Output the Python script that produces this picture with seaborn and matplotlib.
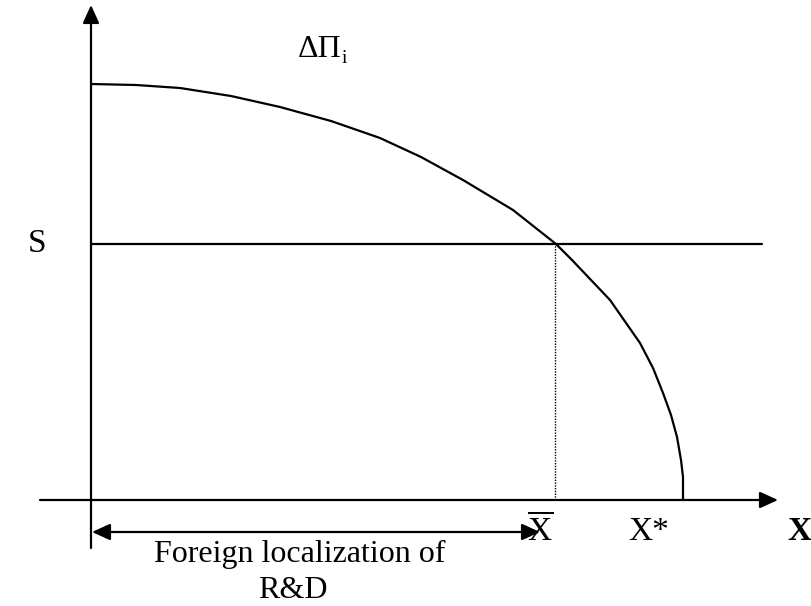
# Diagram: the DPi curve against the S level, with Xbar and X*
import matplotlib
matplotlib.use("Agg")
import matplotlib.pyplot as plt
import seaborn as sns

# curve DPi(X) (pixel-like units, origin at axes crossing)
curve_x = [0, 45, 89, 140, 189, 240, 289, 330, 372, 422, 465, 481, 519, 549,
           562, 572, 580, 586, 590, 592, 592]
curve_y = [416, 415, 412, 404, 393, 379, 362, 343, 320, 290, 256, 240, 200, 157,
           132, 107, 85, 63, 40, 23, 0]

s_level = 256
s_end = 671
x_bar = 464
x_star = 592

sns.set_theme(style="white")
plt.rcParams["font.family"] = ["Liberation Serif", "DejaVu Serif"]
plt.rcParams["mathtext.fontset"] = "custom"
plt.rcParams["mathtext.rm"] = "Liberation Serif"
plt.rcParams["mathtext.it"] = "Liberation Serif"
plt.rcParams["text.color"] = "black"

fig = plt.figure(figsize=(8.12, 6.06), dpi=100)
ax = fig.add_axes([0, 0, 1, 1])
ax.set_xlim(-91, 721)
ax.set_ylim(-106, 500)
ax.axis("off")

lw = 1.6
punta = "-|>,head_length=0.55,head_width=0.25"

# ejes con flechas
ax.annotate("", xy=(0, 495), xytext=(0, -48),
            arrowprops=dict(arrowstyle=punta, mutation_scale=20, lw=lw,
                            color="black", shrinkA=0, shrinkB=0))
ax.annotate("", xy=(687, 0), xytext=(-51, 0),
            arrowprops=dict(arrowstyle=punta, mutation_scale=20, lw=lw,
                            color="black", shrinkA=0, shrinkB=0))

# curva
sns.lineplot(x=curve_x, y=curve_y, sort=False, estimator=None, color="black",
             lw=lw, ax=ax)

# nivel S
sns.lineplot(x=[0, s_end], y=[s_level, s_level], color="black", lw=lw, ax=ax)

# linea punteada en Xbar
ax.plot([x_bar, x_bar], [0, s_level], color="black", lw=1.0, ls=(0, (1, 1)))

# flecha doble bajo el eje
ax.annotate("", xy=(449, -32), xytext=(1, -32),
            arrowprops=dict(arrowstyle="<|-|>,head_length=0.55,head_width=0.25",
                            mutation_scale=20, lw=lw, color="black",
                            shrinkA=0, shrinkB=0))

# textos
fs = 23
ax.text(207, 443, "ΔΠ", fontsize=fs, ha="left", va="baseline", color="black")
ax.text(251, 437, "i", fontsize=14, ha="left", va="baseline", color="black")
ax.text(-54, s_level, "S", fontsize=24, ha="center", va="center", color="black")
ax.text(449, -40, r"$\overline{\mathrm{X}}$", fontsize=24, ha="center",
        va="baseline", color="black")
ax.text(537, -40, "X*", fontsize=24, ha="left", va="baseline", color="black")
ax.text(696, -40, "X", fontsize=24, ha="left", va="baseline", weight="bold",
        color="black")
ax.text(209, -62, "Foreign localization of", fontsize=fs, ha="center",
        va="baseline", color="black")
ax.text(202, -98, "R&D", fontsize=fs, ha="center", va="baseline", color="black")

fig.savefig("out.png", dpi=100, facecolor="white")
